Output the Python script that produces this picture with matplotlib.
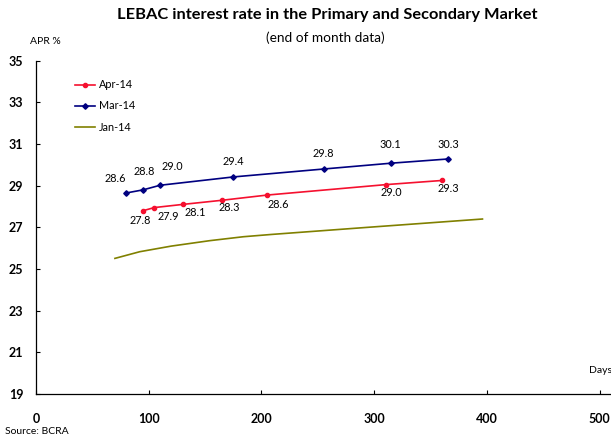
import matplotlib
matplotlib.use("Agg")
import matplotlib.pyplot as plt

plt.rcParams['font.family'] = ['Lato', 'DejaVu Sans']

# Data
mar_days = [80, 95, 110, 175, 255, 315, 365]
mar_vals = [28.65, 28.80, 29.02, 29.42, 29.80, 30.08, 30.28]
mar_labels = ["28.6", "28.8", "29.0", "29.4", "29.8", "30.1", "30.3"]

apr_days = [95, 105, 130, 165, 205, 310, 360]
apr_vals = [27.80, 27.95, 28.10, 28.30, 28.55, 29.05, 29.25]
apr_labels = ["27.8", "27.9", "28.1", "28.3", "28.6", "29.0", "29.3"]

jan_days = [70, 92, 120, 154, 184, 209, 294, 396]
jan_vals = [25.51, 25.83, 26.10, 26.36, 26.55, 26.66, 27.00, 27.40]

xticks = [0, 100, 200, 300, 400, 500]
yticks = [19, 21, 23, 25, 27, 29, 31, 33, 35]

# label offsets in pixels (dx, dy)
mar_offsets = [(-11, 14), (1, 18), (12, 19), (0, 15), (0, 16), (-1, 19), (1, 15)]
apr_offsets = [(-3, -10), (14, -9), (13, -8), (7, -7), (11, -9), (6, -8), (6, -8)]

RED = "#f5102f"
BLUE = "#000080"
OLIVE = "#808000"

fig = plt.figure(figsize=(6.11, 4.36), dpi=100)
ax = fig.add_axes([36/611, 42/436, 1 - 36/611, (394 - 60.7)/436])

ax.plot(apr_days, apr_vals, color=RED, lw=1.2, marker='o', ms=3, label="Apr-14")
ax.plot(mar_days, mar_vals, color=BLUE, lw=1.2, marker='D', ms=2.8, label="Mar-14")
ax.plot(jan_days, jan_vals, color=OLIVE, lw=1.2, label="Jan-14")

for d, v, t, (dx, dy) in zip(mar_days, mar_vals, mar_labels, mar_offsets):
    ax.annotate(t, (d, v), xytext=(dx, dy), textcoords='offset pixels',
                ha='center', va='center', fontsize=7.8, color='black')
for d, v, t, (dx, dy) in zip(apr_days, apr_vals, apr_labels, apr_offsets):
    ax.annotate(t, (d, v), xytext=(dx, dy), textcoords='offset pixels',
                ha='center', va='center', fontsize=7.8, color='black')

ax.set_xlim(0, 510)
ax.set_ylim(19, 35)
ax.set_xticks(xticks)
ax.set_yticks(yticks)
ax.set_xticklabels([str(x) for x in xticks], fontweight='bold', fontsize=9)
ax.set_yticklabels([str(y) for y in yticks], fontweight='bold', fontsize=9)
ax.tick_params(axis='x', direction='in', length=3, pad=14, width=0.8)
ax.tick_params(axis='y', direction='in', length=3, pad=9, width=0.8)
for s in ['top', 'right']:
    ax.spines[s].set_visible(False)
for s in ['left', 'bottom']:
    ax.spines[s].set_linewidth(0.9)
ax.spines['bottom'].set_clip_on(False)

leg = ax.legend(loc='upper left', bbox_to_anchor=(0.06, 0.957), frameon=False,
                fontsize=7.8, handlelength=1.9, handletextpad=0.3, labelspacing=0.93,
                borderaxespad=0)

fig.text(327/611, 1 - 15/436, "LEBAC interest rate in the Primary and Secondary Market",
         ha='center', va='center', fontsize=11.8, fontweight='bold')
fig.text(325/611, 1 - 38/436, "(end of month data)", ha='center', va='center', fontsize=9.8)
fig.text(30/611, 1 - 41/436, "APR %", ha='left', va='center', fontsize=7.5)
fig.text(589/611, 1 - 370/436, "Days", ha='left', va='center', fontsize=7.5)
fig.text(5/611, 1 - 431/436, "Source: BCRA", ha='left', va='center', fontsize=7.5)

fig.savefig("out.png", dpi=100)
